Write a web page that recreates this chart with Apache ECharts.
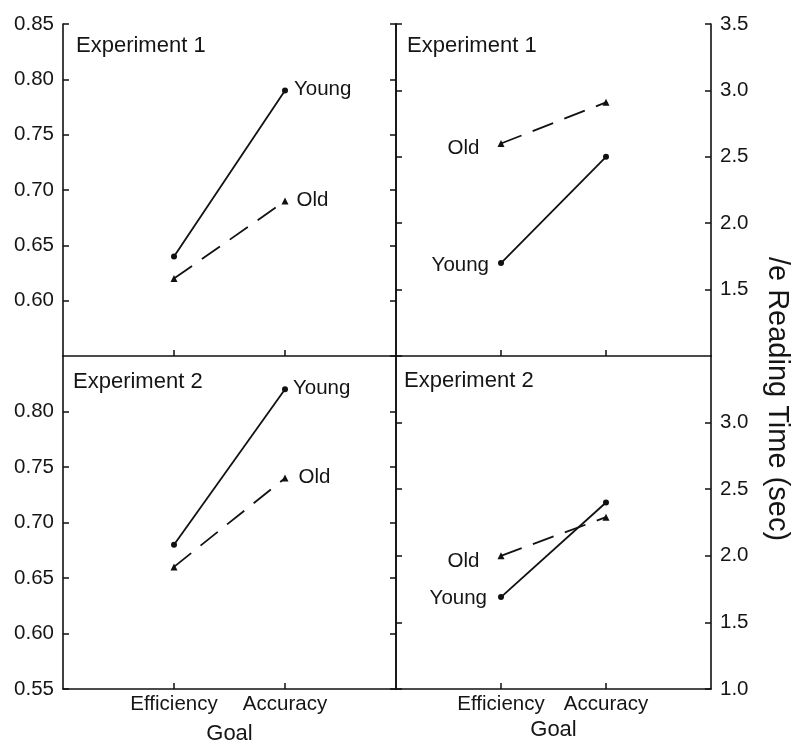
<!DOCTYPE html>
<html>
<head>
<meta charset="utf-8">
<script src="https://cdn.jsdelivr.net/npm/echarts@6/dist/echarts.min.js"></script>
<style>html,body{margin:0;padding:0;background:#fff;}#c{width:800px;height:751px;}</style>
</head>
<body>
<div id="c"></div>
<script>
// ---- data ----
const categories = ['Efficiency', 'Accuracy'];
const exp1AccuracyYoung = [0.64, 0.79];
const exp1AccuracyOld = [0.62, 0.69];
const exp2AccuracyYoung = [0.68, 0.82];
const exp2AccuracyOld = [0.66, 0.74];
const exp1TimeYoung = [1.70, 2.50];
const exp1TimeOld = [2.60, 2.91];
const exp2TimeYoung = [1.69, 2.40];
const exp2TimeOld = [2.00, 2.29];
const leftAxisRange = [0.55, 0.85];
const leftAxisStep = 0.05;
const rightAxisRange = [1.0, 3.5];
const rightAxisStep = 0.5;
const panelTitles = ['Experiment 1', 'Experiment 1', 'Experiment 2', 'Experiment 2'];
const xTitle = 'Goal';
const yRightTitle = '/e Reading Time (sec)';
const groupNames = ['Young', 'Old'];

// ---- layout / style ----
const FONT = '"Liberation Sans", Arial, Helvetica, sans-serif';
const INK = '#111';
const TXT = '#151515';
const xCats = [''].concat(categories, ['']);

const grids = [
  {left: 63, top: 24, width: 333, height: 332},
  {left: 396, top: 24, width: 315, height: 332},
  {left: 63, top: 356, width: 333, height: 333},
  {left: 396, top: 356, width: 315, height: 333}
];

function xAxisFor(gi, showLabels, nameGap) {
  return {
    type: 'category', gridIndex: gi, data: xCats, boundaryGap: false,
    axisLine: {show: true, lineStyle: {color: INK, width: 1.6}},
    axisTick: {show: true, inside: true, length: 6, lineStyle: {color: INK, width: 1.5},
      interval: function (i, v) { return v !== ''; }},
    axisLabel: {show: showLabels, interval: 0, hideOverlap: false, color: TXT, fontSize: 20.5,
      fontFamily: FONT, margin: 5},
    splitLine: {show: false},
    name: showLabels ? xTitle : '', nameLocation: 'middle', nameGap: nameGap,
    nameTextStyle: {color: TXT, fontSize: 22, fontFamily: FONT}
  };
}
function yAxisFor(gi, range, step, pos, showLabels, hideMin, hideMax, digits) {
  return {
    type: 'value', gridIndex: gi, position: pos, min: range[0], max: range[1], interval: step,
    axisLine: {show: true, onZero: false, lineStyle: {color: INK, width: 1.6}},
    axisTick: {show: true, inside: true, length: 6, lineStyle: {color: INK, width: 1.5}},
    axisLabel: {show: showLabels, color: TXT, fontSize: 20.5, fontFamily: FONT, margin: 9,
      showMinLabel: !hideMin, showMaxLabel: !hideMax,
      formatter: function (v) { return v.toFixed(digits); }},
    splitLine: {show: false}
  };
}

const xAxes = [xAxisFor(0, false, 0), xAxisFor(1, false, 0), xAxisFor(2, true, 34), xAxisFor(3, true, 30)];
const yAxes = [
  yAxisFor(0, leftAxisRange, leftAxisStep, 'left', true, true, false, 2),
  yAxisFor(0, leftAxisRange, leftAxisStep, 'right', false, false, false, 2),
  yAxisFor(1, rightAxisRange, rightAxisStep, 'left', false, false, false, 1),
  yAxisFor(1, rightAxisRange, rightAxisStep, 'right', true, true, false, 1),
  yAxisFor(2, leftAxisRange, leftAxisStep, 'left', true, false, true, 2),
  yAxisFor(2, leftAxisRange, leftAxisStep, 'right', false, false, false, 2),
  yAxisFor(3, rightAxisRange, rightAxisStep, 'left', false, false, false, 1),
  yAxisFor(3, rightAxisRange, rightAxisStep, 'right', true, false, true, 1)
];

// build padded series data with a text label at one point
function buildData(vals, labelText, labelIdx, pos, dist, dy) {
  const out = [null];
  vals.forEach(function (v, i) {
    if (i === labelIdx) {
      out.push({value: v, label: {show: true, formatter: labelText, position: pos, distance: dist,
        offset: [0, dy], color: TXT, fontSize: 20.5, fontFamily: FONT}});
    } else {
      out.push(v);
    }
  });
  out.push(null);
  return out;
}
function lineSeries(gi, yi, data, isOld) {
  return {
    type: 'line', xAxisIndex: gi, yAxisIndex: yi, data: data,
    symbol: isOld ? 'triangle' : 'circle', symbolSize: isOld ? 7 : 6, showSymbol: true,
    itemStyle: {color: INK},
    lineStyle: {color: INK, width: 1.8, type: isOld ? [22, 12] : 'solid'},
    connectNulls: false, silent: true, z: isOld ? 2 : 3
  };
}

const series = [
  lineSeries(0, 0, buildData(exp1AccuracyYoung, groupNames[0], 1, 'right', 6, -1), false),
  lineSeries(0, 0, buildData(exp1AccuracyOld, groupNames[1], 1, 'right', 8, -1), true),
  lineSeries(1, 2, buildData(exp1TimeYoung, groupNames[0], 0, 'left', 9, 2), false),
  lineSeries(1, 2, buildData(exp1TimeOld, groupNames[1], 0, 'left', 18, 5), true),
  lineSeries(2, 4, buildData(exp2AccuracyYoung, groupNames[0], 1, 'right', 5, -1), false),
  lineSeries(2, 4, buildData(exp2AccuracyOld, groupNames[1], 1, 'right', 10, -1), true),
  lineSeries(3, 6, buildData(exp2TimeYoung, groupNames[0], 0, 'left', 11, 1), false),
  lineSeries(3, 6, buildData(exp2TimeOld, groupNames[1], 0, 'left', 18, 6), true)
];

const titlePos = [[76, 45.5], [407, 45.5], [73, 381.5], [404, 381]];
const graphics = titlePos.map(function (p, i) {
  return {type: 'text', x: p[0], y: p[1], silent: true,
    style: {text: panelTitles[i], fill: TXT, font: '22px ' + FONT, textAlign: 'left', textVerticalAlign: 'middle'}};
});
graphics.push({type: 'text', x: 777, y: 399, rotation: -Math.PI / 2, silent: true,
  style: {text: yRightTitle, fill: TXT, font: '29px ' + FONT, textAlign: 'center', textVerticalAlign: 'middle'}});

const chart = echarts.init(document.getElementById('c'), null, {renderer: 'canvas'});
chart.setOption({
  animation: false,
  backgroundColor: '#fff',
  textStyle: {fontFamily: FONT},
  grid: grids,
  xAxis: xAxes,
  yAxis: yAxes,
  series: series,
  graphic: graphics
});
</script>
</body>
</html>
